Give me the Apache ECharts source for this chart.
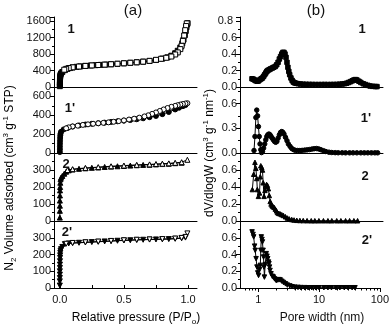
<!DOCTYPE html>
<html>
<head>
<meta charset="utf-8">
<script src="https://cdn.jsdelivr.net/npm/echarts@6/dist/echarts.min.js"></script>
<style>
  html, body { margin: 0; padding: 0; background: #fff; }
  #main { width: 392px; height: 327px; }
</style>
</head>
<body>
<div id="main"></div>
<script>
// (a) isotherms: [P/P0, volume]
var iso1Ads = [[0.0005,20],[0.001,60],[0.001,100],[0.0015,150],[0.002,200],[0.003,240],[0.004,270],[0.006,300],[0.01,330],[0.02,365],[0.04,410],[0.06,440],[0.08,460],[0.1,475],[0.13,490],[0.16,500],[0.2,512],[0.24,522],[0.28,530],[0.32,538],[0.36,545],[0.4,552],[0.45,562],[0.5,575],[0.55,588],[0.6,600],[0.65,615],[0.7,632],[0.75,655],[0.8,690],[0.84,720],[0.87,760],[0.9,820],[0.92,880],[0.94,960],[0.955,1060],[0.965,1150],[0.975,1260],[0.982,1360],[0.988,1450],[0.993,1520]];
var iso1Des = [[0.997,1550],[0.99,1545],[0.985,1480],[0.978,1380],[0.97,1250],[0.96,1120],[0.95,1000],[0.94,920],[0.92,840],[0.9,790],[0.87,740],[0.83,710],[0.79,685],[0.75,660],[0.7,635],[0.65,615],[0.6,600],[0.55,588],[0.5,576],[0.45,565],[0.4,553],[0.35,543],[0.3,534],[0.25,524],[0.2,512],[0.15,497],[0.1,478],[0.07,460],[0.05,440],[0.035,420]];
var iso1pAds = [[0.0005,10],[0.001,40],[0.001,70],[0.0015,100],[0.002,130],[0.003,160],[0.004,185],[0.006,205],[0.01,225],[0.03,250],[0.06,265],[0.1,280],[0.15,292],[0.2,302],[0.25,310],[0.3,316],[0.35,322],[0.4,330],[0.45,336],[0.5,343],[0.55,350],[0.6,358],[0.65,368],[0.7,380],[0.75,393],[0.8,412],[0.85,435],[0.9,462],[0.93,480],[0.96,497],[0.98,508]];
var iso1pDes = [[0.995,528],[0.98,525],[0.96,520],[0.94,514],[0.92,507],[0.9,500],[0.87,490],[0.84,477],[0.81,462],[0.78,446],[0.75,430],[0.72,415],[0.69,400],[0.66,388],[0.62,375],[0.58,364],[0.54,355],[0.5,346],[0.46,338],[0.42,331],[0.38,325],[0.34,320],[0.3,315],[0.26,310],[0.22,304],[0.18,298],[0.14,290],[0.1,282],[0.07,272],[0.05,262]];
var iso2Ads = [[0.0005,20],[0.0007,60],[0.001,90],[0.001,120],[0.0015,150],[0.002,180],[0.003,200],[0.004,225],[0.006,245],[0.01,255],[0.02,265],[0.035,278],[0.05,290],[0.07,298],[0.1,303],[0.15,307],[0.2,310],[0.25,313],[0.3,315],[0.35,318],[0.4,320],[0.45,322],[0.5,324],[0.55,326],[0.6,328],[0.65,330],[0.7,331],[0.75,333],[0.8,335],[0.85,337],[0.9,340],[0.95,343]];
var iso2Des = [[0.995,360],[0.95,346],[0.9,342],[0.85,339],[0.8,337],[0.75,335],[0.7,333],[0.6,330],[0.5,326],[0.4,322],[0.3,317],[0.2,312],[0.1,305],[0.06,300]];
var iso2pAds = [[0.0005,15],[0.0005,40],[0.0007,60],[0.001,80],[0.001,100],[0.0012,120],[0.0015,140],[0.002,160],[0.0025,180],[0.003,195],[0.004,210],[0.006,222],[0.01,232],[0.02,245],[0.04,262],[0.07,266],[0.1,268],[0.15,270],[0.2,272],[0.25,274],[0.3,276],[0.35,278],[0.4,280],[0.45,282],[0.5,284],[0.55,285],[0.6,287],[0.65,288],[0.7,289],[0.75,290],[0.8,291],[0.85,292],[0.9,294],[0.95,297],[0.98,301]];
var iso2pDes = [[0.995,326],[0.98,305],[0.95,299],[0.9,295],[0.8,292],[0.7,290],[0.6,288],[0.5,285],[0.4,281],[0.3,277],[0.2,273],[0.1,269],[0.05,264]];

// (b) pore size distributions: [width nm, dV/dlogW]
var psd1 = [[0.78,0.1],[0.82,0.095],[0.86,0.085],[0.9,0.075],[0.95,0.07],[1.0,0.075],[1.05,0.09],[1.1,0.1],[1.15,0.11],[1.2,0.13],[1.25,0.15],[1.3,0.17],[1.35,0.19],[1.4,0.2],[1.47,0.21],[1.55,0.22],[1.65,0.23],[1.75,0.24],[1.85,0.25],[1.95,0.27],[2.05,0.3],[2.15,0.34],[2.25,0.37],[2.35,0.4],[2.45,0.42],[2.55,0.42],[2.65,0.4],[2.75,0.36],[2.85,0.3],[2.95,0.24],[3.05,0.19],[3.15,0.15],[3.3,0.11],[3.45,0.08],[3.6,0.06],[3.8,0.05],[4.0,0.045],[4.3,0.04],[4.7,0.036],[5.2,0.034],[5.8,0.033],[6.5,0.032],[7.3,0.031],[8.2,0.03],[9.2,0.03],[10.3,0.03],[11.5,0.031],[13,0.03],[14.5,0.03],[16,0.031],[18,0.032],[20,0.034],[22,0.036],[24,0.04],[26,0.046],[28,0.055],[30,0.065],[32,0.075],[34,0.085],[36,0.09],[38,0.085],[41,0.07],[44,0.055],[48,0.04],[52,0.03],[57,0.02],[62,0.012],[68,0.008],[75,0.006],[80,0.005]];
var psd1p = [[0.84,0.03],[0.87,0.2],[0.9,0.43],[0.93,0.52],[0.96,0.45],[0.99,0.32],[1.02,0.2],[1.05,0.11],[1.08,0.04],[1.11,0.005],[1.15,0.02],[1.2,0.06],[1.25,0.11],[1.3,0.16],[1.35,0.2],[1.4,0.22],[1.46,0.23],[1.52,0.22],[1.58,0.2],[1.65,0.18],[1.72,0.16],[1.8,0.14],[1.88,0.13],[1.96,0.14],[2.05,0.18],[2.15,0.22],[2.25,0.25],[2.35,0.26],[2.45,0.25],[2.55,0.23],[2.7,0.19],[2.85,0.15],[3.0,0.11],[3.2,0.08],[3.4,0.055],[3.65,0.04],[3.9,0.032],[4.2,0.03],[4.6,0.03],[5.0,0.032],[5.5,0.035],[6,0.038],[6.6,0.042],[7.2,0.048],[7.8,0.052],[8.5,0.054],[9.2,0.05],[10,0.04],[11,0.028],[12,0.018],[13.5,0.01],[15,0.006],[17,0.004],[19,0.003],[22,0.003],[25,0.002],[29,0.002],[33,0.002],[38,0.002],[44,0.002],[50,0.002],[57,0.002],[65,0.002],[74,0.002],[82,0.002]];
var psd2 = [[0.79,0.37],[0.83,0.55],[0.87,0.69],[0.9,0.62],[0.93,0.5],[0.95,0.37],[0.99,0.29],[1.03,0.33],[1.06,0.52],[1.08,0.65],[1.12,0.63],[1.15,0.6],[1.18,0.45],[1.22,0.29],[1.26,0.36],[1.3,0.41],[1.34,0.43],[1.38,0.42],[1.43,0.38],[1.48,0.3],[1.53,0.23],[1.58,0.2],[1.64,0.18],[1.7,0.17],[1.77,0.16],[1.85,0.14],[1.93,0.12],[2.0,0.1],[2.1,0.09],[2.2,0.085],[2.35,0.075],[2.5,0.065],[2.7,0.05],[2.9,0.035],[3.1,0.025],[3.4,0.017],[3.7,0.012],[4.1,0.008],[4.6,0.006],[5.2,0.005],[6,0.004],[7,0.003],[8,0.003],[9.3,0.003],[11,0.003],[13,0.003],[15,0.003],[18,0.003],[21,0.003],[25,0.003],[29,0.003],[34,0.003],[39,0.003]];
var psd2p = [[0.79,0.67],[0.82,0.64],[0.84,0.61],[0.87,0.5],[0.89,0.45],[0.92,0.35],[0.95,0.25],[0.98,0.18],[1.01,0.15],[1.05,0.22],[1.08,0.27],[1.1,0.45],[1.12,0.61],[1.15,0.58],[1.17,0.55],[1.2,0.45],[1.22,0.37],[1.24,0.25],[1.26,0.13],[1.3,0.28],[1.35,0.41],[1.39,0.38],[1.43,0.35],[1.47,0.31],[1.5,0.29],[1.53,0.25],[1.56,0.21],[1.62,0.17],[1.7,0.14],[1.77,0.13],[1.85,0.11],[1.93,0.095],[2.0,0.09],[2.1,0.095],[2.2,0.1],[2.3,0.095],[2.45,0.08],[2.6,0.065],[2.8,0.05],[3.0,0.035],[3.3,0.025],[3.6,0.015],[4.0,0.01],[4.5,0.007],[5,0.005],[5.8,0.004],[6.6,0.003],[7.6,0.003],[8.8,0.003],[10,0.003],[12,0.003],[14,0.003],[16,0.003],[19,0.003],[22,0.003],[26,0.003],[30,0.003],[35,0.003],[39,0.003]];

// axis settings per panel
var leftMax = [1700, 700, 400, 400];
var leftStep = [400, 200, 100, 100];
var leftLabels = [[0, 400, 800, 1200, 1600], [0, 200, 400, 600], [0, 100, 200, 300], [0, 100, 200, 300]];
var rightMax = [0.85, 0.8, 0.8, 0.8];
var rightStep = [0.2, 0.3, 0.2, 0.2];
var rightLabels = [[0, 0.2, 0.4, 0.6], [0, 0.3, 0.6], [0, 0.2, 0.4, 0.6], [0, 0.2, 0.4, 0.6]];
var rightTopLabel = [0.8];
var pressureTicks = [0, 0.25, 0.5, 0.75, 1];
var pressureLabels = [0, 0.5, 1];
var widthMinorTicks = [0.6,0.7,0.8,0.9,2,3,4,5,6,7,8,9,20,30,40,50,60,70,80,90];
var widthLabels = [1, 10, 100];
var panelNames = ['1', "1'", '2', "2'"];

var FONT = "'Liberation Sans', Arial, sans-serif";
var tops = [17, 87, 153, 221];
var heights = [70, 66, 68, 67];
var chart = echarts.init(document.getElementById('main'));

var grids = [], xAxes = [], yAxes = [], series = [];
for (var i = 0; i < 4; i++) {
    grids.push({left: 54, top: tops[i], width: 143, height: heights[i]});
    grids.push({left: 240, top: tops[i], width: 143, height: heights[i]});
}

function baseAxisLine() {
    return {show: true, onZero: false, lineStyle: {color: '#000', width: 1}};
}

// x axes
for (var i = 0; i < 4; i++) {
    var last = (i === 3);
    var lx = {
        type: 'value', gridIndex: 2 * i, min: -0.045, max: 1.07,
        axisLine: baseAxisLine(), splitLine: {show: false},
        axisTick: {show: false}, axisLabel: {show: false}
    };
    if (last) {
        lx.axisTick = {show: true, inside: true, length: 3, customValues: pressureTicks, lineStyle: {color: '#000'}};
        lx.axisLabel = {show: true, customValues: pressureLabels, color: '#111', fontSize: 11, fontFamily: FONT, margin: 6,
            formatter: function (v) { return (+v).toFixed(1); }};
    }
    xAxes.push(lx);
    var rx = {
        type: 'log', gridIndex: 2 * i + 1, min: 0.5, max: 100, logBase: 10,
        axisLine: baseAxisLine(), splitLine: {show: false},
        axisTick: {show: false}, axisLabel: {show: false}
    };
    if (last) {
        rx.axisTick = {show: true, length: 2.5, customValues: widthMinorTicks, lineStyle: {color: '#000'}};
    }
    xAxes.push(rx);
}
// major ticks + labels for the log axis
xAxes.push({
    type: 'log', gridIndex: 7, min: 0.5, max: 100, logBase: 10, position: 'bottom',
    axisLine: baseAxisLine(), splitLine: {show: false},
    axisTick: {show: true, length: 4, customValues: widthLabels, lineStyle: {color: '#000'}},
    axisLabel: {show: true, customValues: widthLabels, color: '#111', fontSize: 11, fontFamily: FONT, margin: 6,
        formatter: function (v) { return String(Math.round(v)); }}
});

// y axes
for (var i = 0; i < 4; i++) {
    yAxes.push({
        type: 'value', gridIndex: 2 * i, min: 0, max: leftMax[i], interval: leftStep[i],
        axisLine: baseAxisLine(), splitLine: {show: false},
        axisTick: {show: true, length: 4, lineStyle: {color: '#000'}},
        minorTick: {show: true, splitNumber: 2, length: 2, lineStyle: {color: '#000'}},
        axisLabel: {color: '#111', fontSize: 11, fontFamily: FONT, margin: 3, customValues: leftLabels[i],
            formatter: function (v) { return String(Math.round(v)); }}
    });
    yAxes.push({
        type: 'value', gridIndex: 2 * i + 1, min: 0, max: rightMax[i], interval: rightStep[i],
        axisLine: baseAxisLine(), splitLine: {show: false},
        axisTick: {show: true, length: 4, lineStyle: {color: '#000'}},
        minorTick: {show: true, splitNumber: 2, length: 2, lineStyle: {color: '#000'}},
        axisLabel: {color: '#111', fontSize: 11, fontFamily: FONT, margin: 3, customValues: rightLabels[i],
            formatter: function (v) { return (+v).toFixed(1); }}
    });
}
// top label of panel (b)1 on its own axis, so it is not dropped as an end label
yAxes.push({
    type: 'value', gridIndex: 1, position: 'left', min: 0, max: rightMax[0],
    axisLine: {show: false}, splitLine: {show: false}, axisTick: {show: false},
    axisLabel: {show: true, color: '#111', fontSize: 11, fontFamily: FONT, margin: 7,
        customValues: rightTopLabel, showMinLabel: true, showMaxLabel: true,
        formatter: function (v) { return (+v).toFixed(1); }}
});

function mk(data, grid, symbol, open, rotate, size) {
    return {
        type: 'line', data: data, xAxisIndex: grid, yAxisIndex: grid,
        symbol: symbol, symbolSize: size || 5, symbolRotate: rotate || 0,
        showSymbol: true, showAllSymbol: true, animation: false, silent: true,
        lineStyle: {color: '#000', width: 1},
        itemStyle: {color: open ? '#fff' : '#000', borderColor: '#000', borderWidth: 1}
    };
}

series.push(mk(iso1Ads, 0, 'rect', false));
series.push(mk(iso1Des, 0, 'rect', true));
series.push(mk(iso1pAds, 2, 'circle', false));
series.push(mk(iso1pDes, 2, 'circle', true));
series.push(mk(iso2Ads, 4, 'triangle', false));
series.push(mk(iso2Des, 4, 'triangle', true));
series.push(mk(iso2pAds, 6, 'triangle', false, 180));
series.push(mk(iso2pDes, 6, 'triangle', true, 180));
series.push(mk(psd1, 1, 'rect', false, 0, 4.5));
series.push(mk(psd1p, 3, 'circle', false, 0, 4.5));
series.push(mk(psd2, 5, 'triangle', false, 0, 4.5));
series.push(mk(psd2p, 7, 'triangle', false, 180, 4.5));

var rich = {
    n: {fontSize: 12, fontFamily: FONT, lineHeight: 16, color: '#111'},
    sup: {fontSize: 8, fontFamily: FONT, verticalAlign: 'top', lineHeight: 16, color: '#111'},
    sub: {fontSize: 8, fontFamily: FONT, verticalAlign: 'bottom', lineHeight: 16, color: '#111'}
};

function txt(x, y, text, font) {
    return {type: 'text', x: x, y: y, silent: true,
        style: {text: text, font: font, fill: '#111', textAlign: 'center', textVerticalAlign: 'middle'}};
}

var graphics = [
    txt(133, 11, '(a)', '15px ' + FONT),
    txt(316, 11, '(b)', '15px ' + FONT),
    {type: 'text', x: 10, y: 178, rotation: Math.PI / 2, silent: true,
        style: {text: '{n|N}{sub|2}{n| Volume adsorbed (cm}{sup|3}{n| g}{sup|-1}{n| STP)}', rich: rich,
            textAlign: 'center', textVerticalAlign: 'middle'}},
    {type: 'text', x: 210, y: 153, rotation: Math.PI / 2, silent: true,
        style: {text: '{n|dV/dlogW (cm}{sup|3}{n| g}{sup|-1}{n| nm}{sup|-1}{n|)}', rich: rich,
            textAlign: 'center', textVerticalAlign: 'middle'}},
    {type: 'text', x: 136, y: 318, silent: true,
        style: {text: '{n|Relative pressure (P/P}{sub|o}{n|)}', rich: rich,
            textAlign: 'center', textVerticalAlign: 'middle'}},
    txt(322, 318, 'Pore width (nm)', '12px ' + FONT)
];
var leftLabelPos = [[71, 29], [70, 108], [66, 164], [67, 232]];
var rightLabelPos = [[362, 29], [366, 118], [365, 176], [367, 240]];
for (var i = 0; i < 4; i++) {
    graphics.push(txt(leftLabelPos[i][0], leftLabelPos[i][1], panelNames[i], 'bold 13px ' + FONT));
    graphics.push(txt(rightLabelPos[i][0], rightLabelPos[i][1], panelNames[i], 'bold 13px ' + FONT));
}

chart.setOption({
    backgroundColor: '#fff',
    animation: false,
    grid: grids,
    xAxis: xAxes,
    yAxis: yAxes,
    series: series,
    graphic: graphics
});
</script>
</body>
</html>
